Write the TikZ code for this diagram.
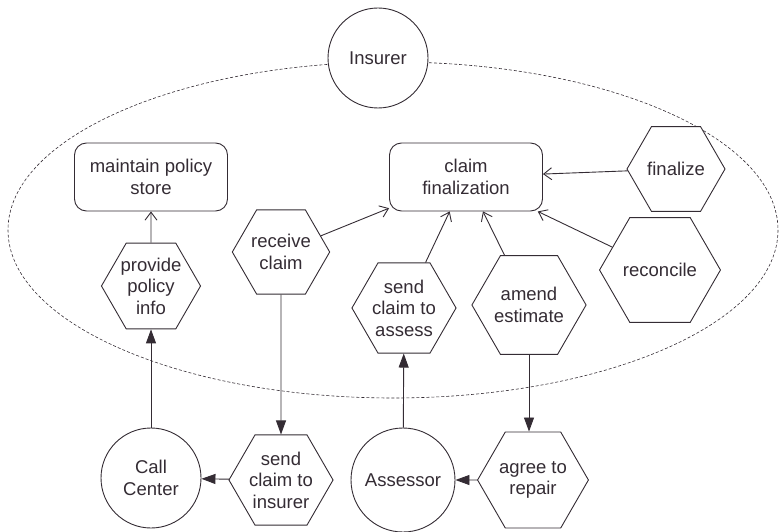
\documentclass[tikz,border=0pt]{standalone}
\usepackage{fontspec}
\setmainfont{Liberation Sans}
\usetikzlibrary{shapes.geometric,arrows.meta}
\definecolor{ink}{RGB}{52,44,52}
\begin{document}
\begin{tikzpicture}[x=1pt,y=-1pt,
  every node/.style={font=\fontsize{18.5}{21.5}\selectfont, text=ink, align=center},
  actor/.style={circle, draw=ink, line width=0.9pt, fill=white, minimum size=100pt, inner sep=0pt},
  task/.style={regular polygon, regular polygon sides=6, draw=ink, line width=0.9pt, fill=white, minimum size=98pt, inner sep=0pt},
  goal/.style={rectangle, rounded corners=12pt, draw=ink, line width=0.9pt, fill=white, minimum width=153pt, minimum height=68pt, inner sep=2pt},
  contrib/.style={draw=ink, line width=0.9pt, -{Straight Barb[length=8pt,width=12pt]}},
  depend/.style={draw=ink, line width=0.9pt, -{Triangle[length=14pt,width=10pt]}},
  boundary/.style={draw=ink, line width=0.6pt, dash pattern=on 3pt off 2pt}]
\useasboundingbox (0,0) rectangle (779,532);

% actor boundary of the insurer
\draw[boundary] (393,230) ellipse [x radius=385, y radius=168];

% actors
\node[actor] (ins) at (378,58) {Insurer};
\node[actor] (cc) at (151,478) {Call\\Center};
\node[actor, minimum size=104pt] (as) at (403,480) {Assessor};

% goals
\node[goal] (mps) at (151,177) {maintain policy\\store};
\node[goal] (cf) at (466,177) {claim\\finalization};

% tasks
\node[task] (ppi) at (151,286) {provide\\policy\\info};
\node[task, minimum size=96pt] (rc) at (281,252) {receive\\claim};
\node[task] (sca) at (404,308) {send\\claim to\\assess};
\node[task] (ae) at (529,305) {amend\\estimate};
\node[task] (fin) at (676,169) {finalize};
\node[task, minimum size=100pt] (rec) at (660,270) {reconcile};
\node[task, minimum size=96pt] (sci) at (281,480) {send\\claim to\\insurer};
\node[task, minimum size=96pt] (atr) at (533,480) {agree to\\repair};

% contributions inside the boundary
\draw[contrib] (ppi) -- (mps);
\draw[contrib] (rc) -- (cf);
\draw[contrib] (sca) -- (cf);
\draw[contrib] (ae) -- (cf);
\draw[contrib] (fin) -- (cf);
\draw[contrib] (rec) -- (cf);

% dependencies
\draw[depend] (cc) -- (ppi);
\draw[depend] (rc) -- (sci);
\draw[depend] (sci) -- (cc);
\draw[depend] (as) -- (sca);
\draw[depend] (ae.south) -- (ae.south |- atr.north);
\draw[depend] (atr) -- (as);
\end{tikzpicture}
\end{document}
